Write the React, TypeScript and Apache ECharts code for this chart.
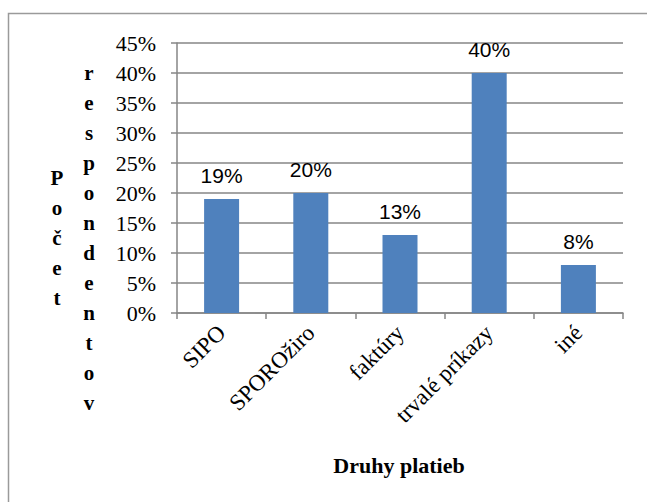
import React, { useEffect, useRef } from "react";
import * as echarts from "echarts";

const categories = ["SIPO", "SPOROžiro", "faktúry", "trvalé príkazy", "iné"];
const shares = [19, 20, 13, 40, 8];
const yTitleFirst = "Počet";
const yTitleSecond = "respondentov";
const xTitle = "Druhy platieb";

const serif = "Liberation Serif";
const sans = "Liberation Sans";

export default function App() {
  const ref = useRef<HTMLDivElement>(null);

  useEffect(() => {
    if (!ref.current) return;
    const chart = echarts.init(ref.current, null, { renderer: "svg" });
    chart.setOption({
      animation: false,
      backgroundColor: "#ffffff",
      grid: { left: 177, right: 24, top: 43, bottom: 189 },
      xAxis: {
        type: "category",
        data: categories,
        axisLine: { lineStyle: { color: "#868686", width: 1.5 } },
        axisTick: { show: true, length: 6, lineStyle: { color: "#868686", width: 1.5 } },
        axisLabel: {
          rotate: 45,
          interval: 0,
          margin: 16,
          color: "#000",
          fontFamily: serif,
          fontSize: 23,
        },
      },
      yAxis: {
        type: "value",
        min: 0,
        max: 45,
        interval: 5,
        axisLine: { show: true, lineStyle: { color: "#868686", width: 1.5 } },
        axisTick: { show: true, length: 6, lineStyle: { color: "#868686", width: 1.5 } },
        splitLine: { lineStyle: { color: "#868686", width: 1.5 } },
        axisLabel: {
          formatter: "{value}%",
          margin: 21,
          color: "#000",
          fontFamily: serif,
          fontSize: 22,
        },
      },
      series: [
        {
          type: "bar",
          data: shares,
          barWidth: 35,
          itemStyle: { color: "#4F81BD" },
          label: {
            show: true,
            position: "top",
            distance: 13,
            formatter: "{c}%",
            color: "#000",
            fontFamily: sans,
            fontSize: 21,
          },
        },
      ],
      graphic: [
        {
          type: "rect",
          shape: { x: 8.5, y: 13.5, width: 800, height: 800 },
          style: { fill: "none", stroke: "#9a9a9a", lineWidth: 1.5 },
          silent: true,
        },
        {
          type: "text",
          x: 57,
          y: 163,
          style: {
            text: yTitleFirst.split("").join("\n"),
            fontFamily: serif,
            fontWeight: "bold",
            fontSize: 21,
            lineHeight: 30,
            fill: "#000",
            align: "center",
            verticalAlign: "top",
          },
        },
        {
          type: "text",
          x: 89,
          y: 58,
          style: {
            text: yTitleSecond.split("").join("\n"),
            fontFamily: serif,
            fontWeight: "bold",
            fontSize: 21,
            lineHeight: 30,
            fill: "#000",
            align: "center",
            verticalAlign: "top",
          },
        },
        {
          type: "text",
          x: 399,
          y: 465,
          style: {
            text: xTitle,
            fontFamily: serif,
            fontWeight: "bold",
            fontSize: 22,
            fill: "#000",
            align: "center",
            verticalAlign: "middle",
          },
        },
      ],
    });
    return () => chart.dispose();
  }, []);

  return (
    <div
      ref={ref}
      style={{ position: "absolute", left: 0, top: 0, width: 647, height: 502 }}
    />
  );
}
